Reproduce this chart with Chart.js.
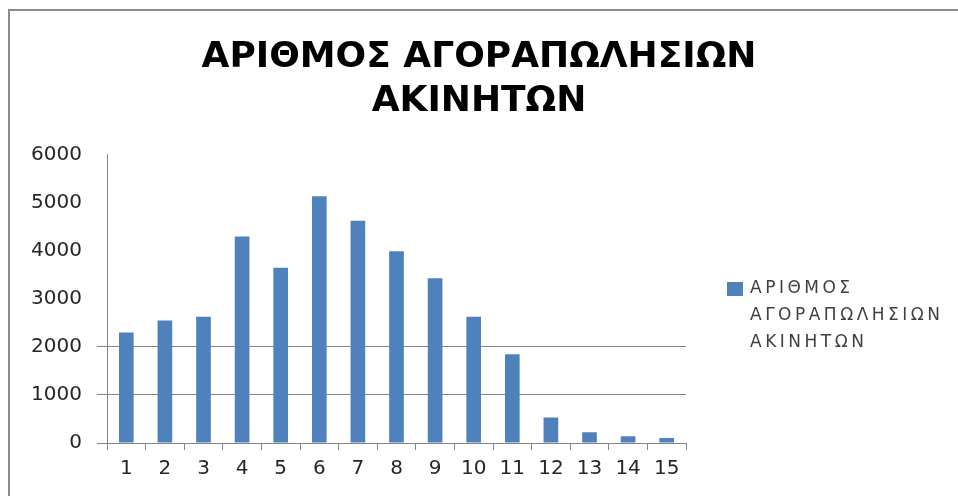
<!DOCTYPE html>
<html>
<head>
<meta charset="utf-8">
<script src="https://cdn.jsdelivr.net/npm/chart.js@4/dist/chart.umd.min.js"></script>
<style>
  html, body { margin: 0; padding: 0; background: #fff; }
  #wrap { width: 958px; height: 496px; position: relative; }
</style>
</head>
<body>
<div id="wrap"><canvas id="myChart"></canvas></div>
<script>
// data
var categories = ["1", "2", "3", "4", "5", "6", "7", "8", "9", "10", "11", "12", "13", "14", "15"];
var sales = [2300, 2550, 2630, 4300, 3650, 5140, 4630, 3990, 3430, 2630, 1850, 530, 225, 140, 105];
var yTicks = [0, 1000, 2000, 3000, 4000, 5000, 6000];
var titleLines = ["ΑΡΙΘΜΟΣ ΑΓΟΡΑΠΩΛΗΣΙΩΝ", "ΑΚΙΝΗΤΩΝ"];
var legendLines = ["ΑΡΙΘΜΟΣ", "ΑΓΟΡΑΠΩΛΗΣΙΩΝ", "ΑΚΙΝΗΤΩΝ"];

var axisGray = "#868686";
var barBlue = "#4F81BD";

// frame around the chart (only top and left edges show in the picture)
var framePlugin = {
  id: "frame",
  beforeDraw: function(chart) {
    var c = chart.ctx;
    c.save();
    c.strokeStyle = "#8c8c8c";
    c.lineWidth = 2;
    c.beginPath();
    c.moveTo(9, 496);
    c.lineTo(9, 10);
    c.lineTo(958, 10);
    c.stroke();
    c.restore();
  }
};

// legend on the right, text wrapped on three lines like the original
var legendPlugin = {
  id: "wrappedLegend",
  afterDraw: function(chart) {
    var c = chart.ctx;
    var ds = chart.data.datasets[0];
    c.save();
    c.fillStyle = ds.backgroundColor;
    c.fillRect(727, 282, 16, 14);
    c.fillStyle = "#404040";
    c.font = "17px 'DejaVu Sans'";
    c.textBaseline = "middle";
    c.textAlign = "left";
    if ("letterSpacing" in c) c.letterSpacing = "3.5px";
    for (var i = 0; i < legendLines.length; i++) {
      c.fillText(legendLines[i], 750, 289 + i * 27);
    }
    c.restore();
  }
};

var ctx = document.getElementById("myChart");
var myChart = new Chart(ctx, {
  type: "bar",
  data: {
    labels: categories,
    datasets: [
      {
        label: legendLines.join(" "),
        data: sales,
        backgroundColor: barBlue,
        borderWidth: 0,
        categoryPercentage: 1,
        barPercentage: 0.38
      }
    ]
  },
  options: {
    responsive: true,
    maintainAspectRatio: false,
    animation: false,
    layout: {
      padding: { left: 0, right: 0, top: 0, bottom: 8 }
    },
    plugins: {
      title: {
        display: true,
        text: titleLines,
        color: "#000",
        font: { family: "DejaVu Sans", size: 36, weight: "bold", lineHeight: 1.22 },
        padding: { top: 36, bottom: 31 }
      },
      legend: { display: false },
      tooltip: { enabled: false }
    },
    scales: {
      x: {
        grid: {
          display: true,
          offset: true,
          drawOnChartArea: false,
          drawTicks: true,
          tickLength: 7,
          color: axisGray
        },
        border: { color: axisGray, width: 1 },
        ticks: {
          color: "#262626",
          font: { family: "DejaVu Sans", size: 20 },
          padding: 7,
          maxRotation: 0
        }
      },
      y: {
        min: 0,
        max: 6000,
        afterBuildTicks: function(scale) {
          scale.ticks = yTicks.map(function(v) { return { value: v }; });
        },
        afterFit: function(scale) {
          scale.width = 107;
        },
        grid: {
          tickLength: 10,
          color: function(c) {
            var v = c.tick ? c.tick.value : 0;
            return v <= 2000 ? axisGray : "rgba(0,0,0,0)";
          }
        },
        border: { color: axisGray, width: 1 },
        ticks: {
          color: "#262626",
          font: { family: "DejaVu Sans", size: 20 },
          padding: 15,
          callback: function(v) { return String(v); }
        }
      },
      // empty axis on the right, only keeps room for the legend
      room: {
        position: "right",
        display: true,
        grid: { display: false },
        border: { display: false },
        ticks: { display: false },
        afterFit: function(scale) {
          scale.width = 272;
        }
      }
    }
  },
  plugins: [framePlugin, legendPlugin]
});
</script>
</body>
</html>
